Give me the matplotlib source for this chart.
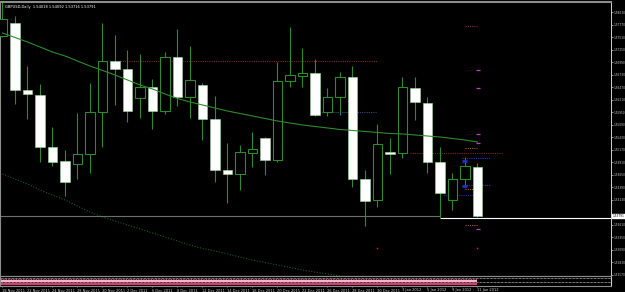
import numpy as np
import matplotlib
matplotlib.use("Agg")
import matplotlib.pyplot as plt
from matplotlib import font_manager

# GBPUSD daily bars, 18 Nov 2011 .. 11 Jan 2012
OPEN = [1.57535, 1.57806, 1.56412, 1.56308, 1.55226, 1.54935, 1.54873, 1.55081, 1.55954, 1.57015,
        1.56849, 1.56246, 1.56474, 1.55975, 1.57098, 1.56266, 1.56516, 1.55809, 1.54748, 1.54665,
        1.55102, 1.55414, 1.54956, 1.56599, 1.56703, 1.56766, 1.55954, 1.56266, 1.56682, 1.54561,
        1.54124, 1.55122, 1.55102, 1.56454, 1.56142, 1.54914, 1.54124, 1.54561, 1.54810]
HIGH = [1.58400, 1.57951, 1.56911, 1.56537, 1.55642, 1.55164, 1.55934, 1.56558, 1.57806, 1.57556,
        1.57244, 1.57161, 1.56641, 1.57202, 1.57681, 1.57327, 1.56558, 1.56287, 1.55310, 1.55268,
        1.55538, 1.55434, 1.56994, 1.57722, 1.57286, 1.57057, 1.56454, 1.56786, 1.56911, 1.54748,
        1.55705, 1.55414, 1.56682, 1.56682, 1.56266, 1.55226, 1.54686, 1.55018, 1.54894]
LOW = [1.57514, 1.56121, 1.55809, 1.54914, 1.54831, 1.54207, 1.54561, 1.54686, 1.55226, 1.56100,
       1.55746, 1.55830, 1.55601, 1.55913, 1.56079, 1.55830, 1.55372, 1.54498, 1.54062, 1.54332,
       1.54810, 1.54644, 1.54914, 1.56474, 1.56474, 1.55871, 1.55871, 1.55892, 1.54394, 1.53583,
       1.53978, 1.54665, 1.54998, 1.55788, 1.54686, 1.53750, 1.53916, 1.54436, 1.53770]
CLOSE = [1.57889, 1.56412, 1.56329, 1.55226, 1.54914, 1.54498, 1.55081, 1.55954, 1.57015, 1.56849,
         1.55975, 1.56474, 1.55975, 1.57098, 1.56266, 1.56620, 1.55809, 1.54748, 1.54665, 1.55122,
         1.55185, 1.54956, 1.56599, 1.56724, 1.56766, 1.55892, 1.56266, 1.56682, 1.54561, 1.54103,
         1.55289, 1.55081, 1.56474, 1.56162, 1.54914, 1.54270, 1.54561, 1.54831, 1.53791]

MA_FAST = [1.57598, 1.57504, 1.57410, 1.57306, 1.57202, 1.57119, 1.57015, 1.56911, 1.56818, 1.56724,
           1.56620, 1.56516, 1.56433, 1.56329, 1.56235, 1.56162, 1.56100, 1.56038, 1.55975, 1.55923,
           1.55871, 1.55819, 1.55767, 1.55726, 1.55684, 1.55653, 1.55622, 1.55590, 1.55570, 1.55549,
           1.55528, 1.55507, 1.55497, 1.55476, 1.55455, 1.55434, 1.55403, 1.55372, 1.55330]
MA_SLOW = [1.54665, 1.54561, 1.54457, 1.54332, 1.54228, 1.54124, 1.53999, 1.53874, 1.53770, 1.53687,
           1.53604, 1.53521, 1.53438, 1.53354, 1.53271, 1.53188, 1.53115, 1.53063, 1.53001, 1.52938,
           1.52876, 1.52824, 1.52772, 1.52720, 1.52668, 1.52626, 1.52585, 1.52543, 1.52502]

DATE_LABELS = ["18 Nov 2011", "22 Nov 2011", "24 Nov 2011", "28 Nov 2011", "30 Nov 2011",
               "2 Dec 2011", "6 Dec 2011", "8 Dec 2011", "12 Dec 2011", "14 Dec 2011",
               "16 Dec 2011", "20 Dec 2011", "22 Dec 2011", "26 Dec 2011", "28 Dec 2011",
               "30 Dec 2011", "3 Jan 2012", "5 Jan 2012", "9 Jan 2012", "11 Jan 2012"]
PRICE_TICKS = [1.52570, 1.52830, 1.53090, 1.53350, 1.53610, 1.54130, 1.54390, 1.54650,
               1.54910, 1.55170, 1.55430, 1.55690, 1.55950, 1.56210, 1.56470, 1.56730,
               1.56990, 1.57250, 1.57510, 1.57770, 1.58030]
LAST = 1.53791
HEADER = "GBPUSD,Daily  1.54018 1.54092 1.53716 1.53791"

# dotted level objects on the chart
LVL_PRICE = [1.57015, 1.55102, 1.55954, 1.57743, 1.55206, 1.54353, 1.54998, 1.54436, 1.54228, 1.53604]
LVL_FROM = [9.4, 32.6, 25.0, 37.0, 37.0, 37.0, 36.8, 36.8, 35.2, 37.0]
LVL_TO = [30.0, 40.0, 30.0, 38.0, 38.0, 38.0, 39.0, 39.0, 38.0, 38.0]
LVL_COLOR = ["#7a2a2a", "#7a2a2a", "#404090", "#903030", "#b06030", "#b06030",
             "#3030c0", "#3030c0", "#3030a0", "#a06060"]
MARK_PRICE = [1.56828, 1.56454, 1.55497, 1.55310, 1.53521]
DOT_BARS = [30, 38]
DOT_PRICE = [1.53126, 1.53126]

GREEN = "#2f8a2f"
GREY = "#8c8c8c"
LABEL = "#c8c8c8"

names = {f.name for f in font_manager.fontManager.ttflist}
TICK_FONT = "Liberation Sans Narrow" if "Liberation Sans Narrow" in names else "DejaVu Sans"
FS = 2.8 if TICK_FONT != "DejaVu Sans" else 2.1

fig = plt.figure(figsize=(6.25, 2.92), dpi=100, facecolor="black")
W, H = 625, 292
ax = fig.add_axes([0, 1 - 276 / H, 611 / W, 274 / H], facecolor="black")
strip = fig.add_axes([0, 1 - 286 / H, 611 / W, 10 / H], facecolor="black", sharex=ax)

x = np.arange(len(OPEN))
o, h, l, c = (np.array(v) for v in (OPEN, HIGH, LOW, CLOSE))
bull = c >= o
bottom = np.minimum(o, c)
height = np.maximum(np.abs(c - o), 0.00005)

ax.vlines(x, l, h, color=GREEN, lw=0.8, zorder=2)
ax.bar(x[bull], height[bull], bottom=bottom[bull], width=0.74, color="black",
       edgecolor=GREEN, lw=0.8, zorder=3)
ax.bar(x[~bull], height[~bull], bottom=bottom[~bull], width=0.74, color="white",
       edgecolor="#9fd89f", lw=0.4, zorder=3)

ax.plot(x, MA_FAST, color=GREEN, lw=0.8, zorder=4)
ax.plot(x[:len(MA_SLOW)], MA_SLOW, color="#1f5a1f", lw=0.8, ls=(0, (1, 1.5)), zorder=1)

for p, a, b, col in zip(LVL_PRICE, LVL_FROM, LVL_TO, LVL_COLOR):
    ax.hlines(p, a, b, color=col, lw=0.8, ls=(0, (1, 1)), zorder=1)
ax.hlines(MARK_PRICE, 37.85, 38.2, color="#c040c0", lw=0.9, zorder=5)
ax.hlines([1.54935, 1.54415], 36.8, 37.2, color="#2030d0", lw=2.0, zorder=5)
ax.scatter(DOT_BARS, DOT_PRICE, s=1.5, color="#d02020", zorder=5, linewidths=0)

# bid line and low marker line
ax.hlines(LAST, -0.5, 35, color="#6e6e6e", lw=0.8, zorder=1)
ax.hlines(LOW[35], 35, 49, color="white", lw=0.8, zorder=1)

ax.set_xlim(-0.2, 48.68)
ax.set_ylim(1.52543, 1.58242)
ax.yaxis.tick_right()
ax.set_yticks(PRICE_TICKS)
ax.set_yticklabels([f"{v:.5f}" for v in PRICE_TICKS], family=TICK_FONT)
ax.tick_params(axis="y", colors=LABEL, labelsize=FS, length=1.2, width=0.5, pad=0.6)
ax.tick_params(axis="x", bottom=False, labelbottom=False)
for side in ("left", "top", "bottom"):
    ax.spines[side].set_color(GREY)
ax.spines["top"].set_linewidth(1.5)
ax.spines["right"].set_color("#d0d0d0")
ax.spines["right"].set_linewidth(0.7)

ax.text(1.003, LAST, f"{LAST:.5f}", transform=ax.get_yaxis_transform(), fontsize=FS,
        family=TICK_FONT, color="black", va="center", ha="left",
        bbox=dict(facecolor="white", edgecolor="white", pad=0.3))
ax.text(5 / 611, 1 - 5 / 274, HEADER, transform=ax.transAxes, fontsize=2.6,
        color="white", va="center", ha="left")

# squeezed indicator strip at the bottom
strip.set_ylim(0, 1)
strip.hlines(0.85, -0.5, 49, color="white", lw=0.5, ls=(0, (1, 1)))
strip.hlines(0.72, -0.5, 38, color="#ff80a8", lw=0.6, ls=(0, (1, 1)))
strip.hlines(0.55, -0.5, 38, color="#ffb8d0", lw=1.4)
strip.hlines(0.38, -0.5, 49, color="white", lw=0.5, ls=(0, (1, 1)))
strip.hlines(0.2, -0.5, 38, color="#d83a78", lw=1.6)
strip.set_yticks([])
for side in strip.spines:
    strip.spines[side].set_color(GREY)
strip.spines["right"].set_color("#d0d0d0")
strip.set_xticks(x[::2])
strip.set_xticklabels(DATE_LABELS, ha="left")
strip.tick_params(axis="x", colors=LABEL, labelsize=2.6, length=1, width=0.5, pad=0.8)

fig.savefig("out.png", dpi=100, facecolor="black")
